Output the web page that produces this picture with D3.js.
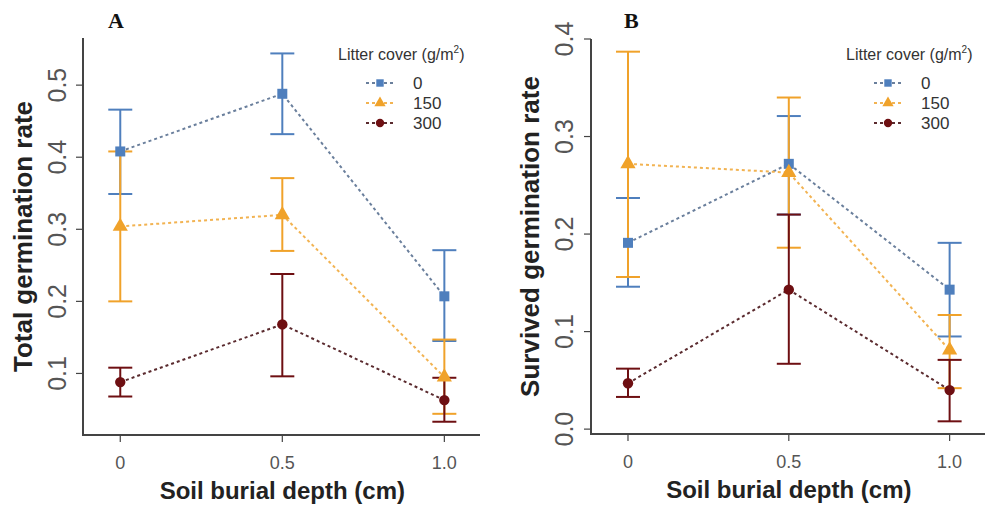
<!DOCTYPE html>
<html>
<head>
<meta charset="utf-8">
<script src="https://cdn.jsdelivr.net/npm/d3@7"></script>
<style>
  body { margin: 0; background: #fff; }
  svg { display: block; font-family: "Liberation Sans", Arial, sans-serif; }
</style>
</head>
<body>
<svg id="chart" width="985" height="508"></svg>
<script>
// burial depths (cm)
const depths = [0, 0.5, 1.0];
const depthLabels = ["0", "0.5", "1.0"];
const litterLevels = ["0", "150", "300"];
const colors = ["#4f7fbd", "#f0a22a", "#6e0f12"];
const lineColors = ["#6a7f9c", "#f2b352", "#5a2a2e"];

// panel A: total germination rate (mean, lower, upper)
const totalMean0 = [0.408, 0.488, 0.207];
const totalLow0 = [0.349, 0.432, 0.145];
const totalHigh0 = [0.466, 0.544, 0.271];
const totalMean150 = [0.304, 0.320, 0.095];
const totalLow150 = [0.200, 0.270, 0.044];
const totalHigh150 = [0.408, 0.371, 0.147];
const totalMean300 = [0.088, 0.168, 0.063];
const totalLow300 = [0.068, 0.096, 0.033];
const totalHigh300 = [0.108, 0.238, 0.094];

// panel B: survived germination rate
const survMean0 = [0.191, 0.272, 0.143];
const survLow0 = [0.146, 0.220, 0.095];
const survHigh0 = [0.237, 0.321, 0.191];
const survMean150 = [0.272, 0.263, 0.081];
const survLow150 = [0.156, 0.186, 0.042];
const survHigh150 = [0.387, 0.340, 0.117];
const survMean300 = [0.047, 0.143, 0.040];
const survLow300 = [0.033, 0.067, 0.008];
const survHigh300 = [0.062, 0.220, 0.071];

const totalTicks = [0.1, 0.2, 0.3, 0.4, 0.5];
const survTicks = [0.0, 0.1, 0.2, 0.3, 0.4];

const svg = d3.select("#chart");

function makeSeries(means, lows, highs) {
    return means.map((m, i) => ({
        group: i,
        points: depths.map((d, j) => ({x: d, y: m[j], lo: lows[i][j], hi: highs[i][j]}))
    }));
}

function drawPanel({left, right, top, bottom, yDomain, yTicks, yFormat, series, title, letter, letterX, yTitleX, yLabelX, legendX}) {
    const g = svg.append("g");
    const x = d3.scaleLinear().domain([-0.115, 1.11]).range([left, right]);
    const y = d3.scaleLinear().domain(yDomain).range([bottom, top]);

    // L shaped frame
    g.append("path")
        .attr("d", `M${left},${top} L${left},${bottom} L${right},${bottom}`)
        .attr("fill", "none")
        .attr("stroke", "#444")
        .attr("stroke-width", 2);

    // y ticks
    yTicks.forEach(t => {
        g.append("line")
            .attr("x1", left - 7).attr("x2", left)
            .attr("y1", y(t)).attr("y2", y(t))
            .attr("stroke", "#444").attr("stroke-width", 1.2);
        g.append("text")
            .attr("transform", `translate(${yLabelX},${y(t)}) rotate(-90)`)
            .attr("text-anchor", "middle")
            .attr("dy", "0.35em")
            .attr("font-size", 25)
            .attr("fill", "#555")
            .text(yFormat(t));
    });

    // x ticks
    depths.forEach((d, i) => {
        g.append("line")
            .attr("x1", x(d)).attr("x2", x(d))
            .attr("y1", bottom).attr("y2", bottom + 7)
            .attr("stroke", "#444").attr("stroke-width", 1.2);
        g.append("text")
            .attr("x", x(d)).attr("y", bottom + 34)
            .attr("text-anchor", "middle")
            .attr("font-size", 18)
            .attr("fill", "#555")
            .text(depthLabels[i]);
    });

    g.append("text")
        .attr("x", x(0.5)).attr("y", bottom + 64)
        .attr("text-anchor", "middle")
        .attr("font-size", 24)
        .attr("font-weight", "bold")
        .attr("fill", "#222")
        .text("Soil burial depth (cm)");

    g.append("text")
        .attr("transform", `translate(${yTitleX},${(top + bottom) / 2}) rotate(-90)`)
        .attr("text-anchor", "middle")
        .attr("dy", "0.35em")
        .attr("font-size", 26)
        .attr("font-weight", "bold")
        .attr("fill", "#222")
        .text(title);

    g.append("text")
        .attr("x", letterX).attr("y", 28)
        .attr("font-family", "'Liberation Serif', 'Times New Roman', serif")
        .attr("font-size", 22)
        .attr("font-weight", "bold")
        .attr("fill", "#111")
        .text(letter);

    // error bars
    series.forEach(s => {
        const eg = g.append("g").attr("stroke", colors[s.group]).attr("stroke-width", 2);
        s.points.forEach(p => {
            eg.append("line")
                .attr("x1", x(p.x)).attr("x2", x(p.x))
                .attr("y1", y(p.lo)).attr("y2", y(p.hi));
            [p.lo, p.hi].forEach(v => {
                eg.append("line")
                    .attr("x1", x(p.x) - 12).attr("x2", x(p.x) + 12)
                    .attr("y1", y(v)).attr("y2", y(v));
            });
        });
    });

    // dashed lines
    const line = d3.line().x(p => x(p.x)).y(p => y(p.y));
    series.forEach(s => {
        g.append("path")
            .attr("d", line(s.points))
            .attr("fill", "none")
            .attr("stroke", lineColors[s.group])
            .attr("stroke-width", 2)
            .attr("stroke-dasharray", "3,3");
    });

    // markers
    const symbols = [d3.symbolSquare, d3.symbolTriangle, d3.symbolCircle];
    const sizes = [100, 100, 85];
    series.forEach(s => {
        g.selectAll(null)
            .data(s.points)
            .enter()
            .append("path")
            .attr("d", d3.symbol().type(symbols[s.group]).size(sizes[s.group]))
            .attr("transform", p => `translate(${x(p.x)},${y(p.y)})`)
            .attr("fill", colors[s.group]);
    });

    // legend
    const lg = g.append("g").attr("transform", `translate(${legendX},0)`);
    const head = lg.append("text")
        .attr("x", 0).attr("y", 60)
        .attr("font-size", 16)
        .attr("fill", "#333")
        .text("Litter cover (g/m");
    head.append("tspan").attr("font-size", 10).attr("dy", -7).text("2");
    head.append("tspan").attr("dy", 7).text(")");

    litterLevels.forEach((lv, i) => {
        const ly = 83 + i * 20;
        lg.append("line")
            .attr("x1", 28).attr("x2", 56)
            .attr("y1", ly).attr("y2", ly)
            .attr("stroke", lineColors[i])
            .attr("stroke-width", 2)
            .attr("stroke-dasharray", "3,3");
        lg.append("path")
            .attr("d", d3.symbol().type(symbols[i]).size(55)())
            .attr("transform", `translate(42,${ly})`)
            .attr("fill", colors[i]);
        lg.append("text")
            .attr("x", 75).attr("y", ly)
            .attr("dy", "0.36em")
            .attr("font-size", 17)
            .attr("fill", "#333")
            .text(lv);
    });
}

drawPanel({
    left: 83, right: 480, top: 38, bottom: 435,
    yDomain: [0.0146, 0.5654],
    yTicks: totalTicks,
    yFormat: d3.format(".1f"),
    series: makeSeries([totalMean0, totalMean150, totalMean300],
        [totalLow0, totalLow150, totalLow300],
        [totalHigh0, totalHigh150, totalHigh300]),
    title: "Total germination rate",
    letter: "A", letterX: 108, yTitleX: 23, yLabelX: 57, legendX: 338
});

drawPanel({
    left: 591, right: 985, top: 39, bottom: 434,
    yDomain: [-0.005, 0.400],
    yTicks: survTicks,
    yFormat: d3.format(".1f"),
    series: makeSeries([survMean0, survMean150, survMean300],
        [survLow0, survLow150, survLow300],
        [survHigh0, survHigh150, survHigh300]),
    title: "Survived germination rate",
    letter: "B", letterX: 624, yTitleX: 530, yLabelX: 564, legendX: 846
});
</script>
</body>
</html>
